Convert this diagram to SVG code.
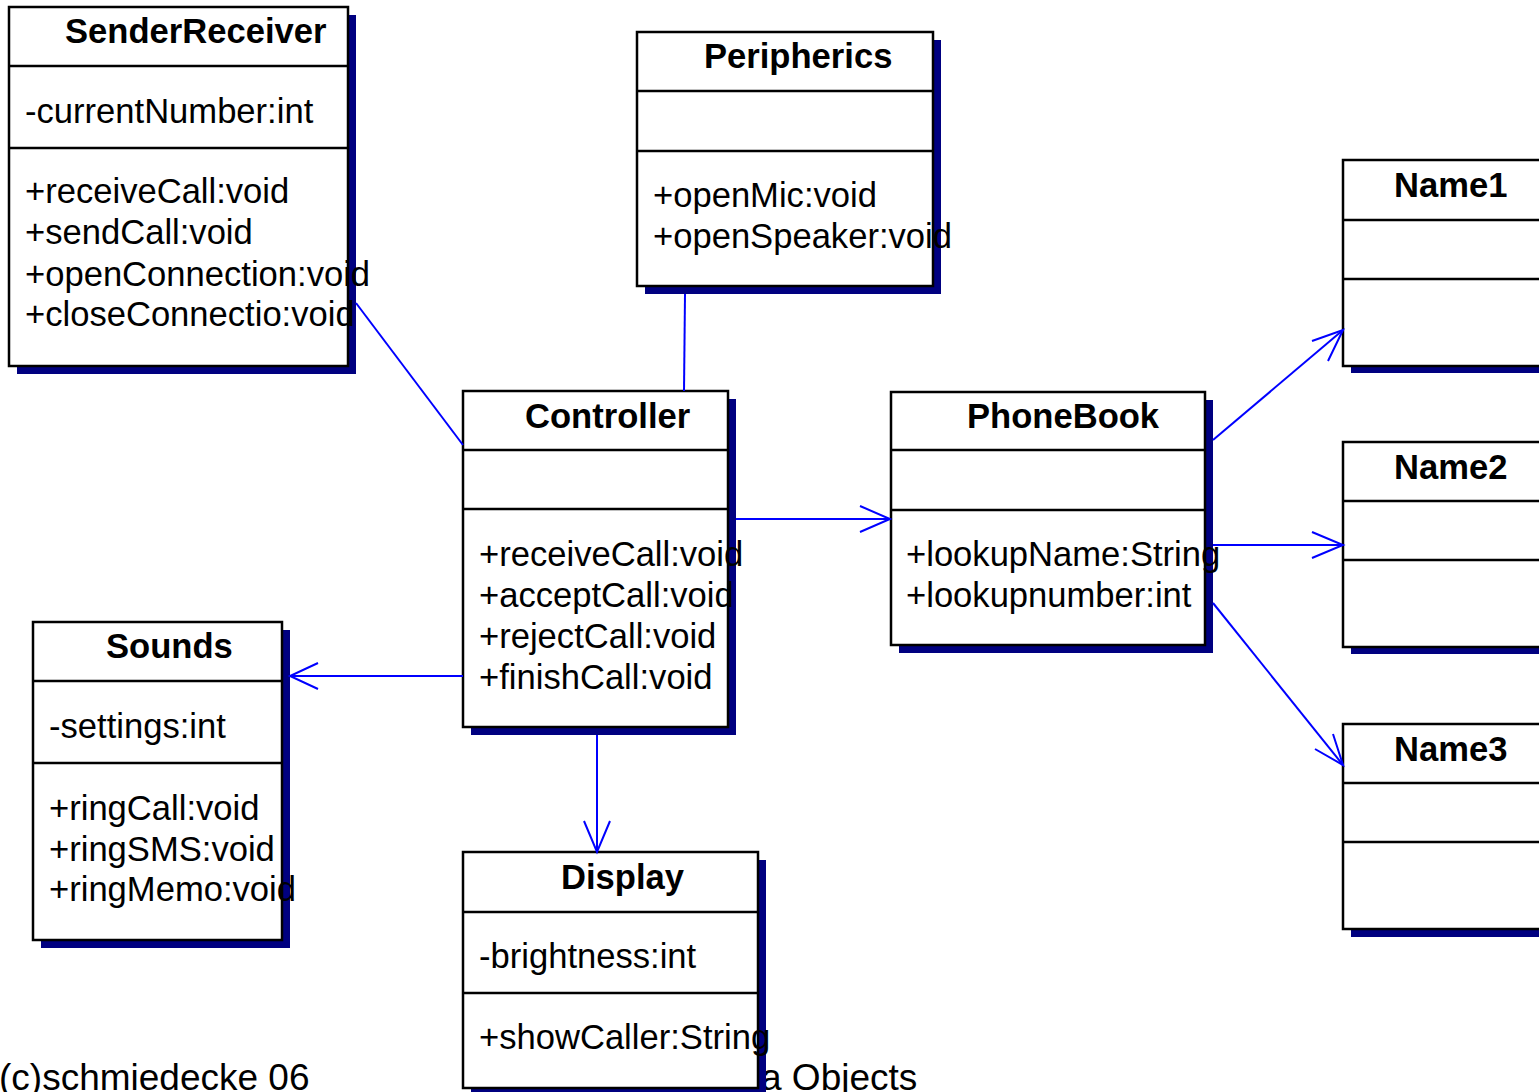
<svg xmlns="http://www.w3.org/2000/svg" width="1539" height="1092" viewBox="0 0 1539 1092">
  <style>
    .shadow { fill: #000080; }
    .box { fill: #ffffff; stroke: #000000; stroke-width: 2.5; }
    .sep { stroke: #000000; stroke-width: 2.5; }
    text { font-family: "Liberation Sans", Arial, Helvetica, sans-serif; font-size: 34.6px; fill: #000000; }
    .title { font-weight: bold; }
    .footer { font-size: 37px; }
    .conn { stroke: #0000ff; stroke-width: 2; fill: none; }
  </style>

  <!-- footer labels -->
  <g id="footer">
    <text class="footer" x="-1" y="1090">(c)schmiedecke 06</text>
    <text class="footer" x="761" y="1090">a Objects</text>
  </g>

  <g id="SenderReceiver">
    <rect class="shadow" x="17" y="15" width="339" height="359"/>
    <rect class="box" x="9" y="7" width="339" height="359"/>
    <line class="sep" x1="9" y1="66" x2="348" y2="66"/>
    <line class="sep" x1="9" y1="148" x2="348" y2="148"/>
    <text class="title" x="65" y="43">SenderReceiver</text>
    <text x="25" y="123">-currentNumber:int</text>
    <text x="25" y="203">+receiveCall:void</text>
    <text x="25" y="244">+sendCall:void</text>
    <text x="25" y="286">+openConnection:void</text>
    <text x="25" y="326">+closeConnectio:void</text>
  </g>

  <g id="Peripherics">
    <rect class="shadow" x="645" y="40" width="296" height="254"/>
    <rect class="box" x="637" y="32" width="296" height="254"/>
    <line class="sep" x1="637" y1="91" x2="933" y2="91"/>
    <line class="sep" x1="637" y1="151" x2="933" y2="151"/>
    <text class="title" x="704" y="68">Peripherics</text>
    <text x="653" y="207">+openMic:void</text>
    <text x="653" y="248">+openSpeaker:void</text>
  </g>

  <g id="Controller">
    <rect class="shadow" x="471" y="399" width="265" height="336"/>
    <rect class="box" x="463" y="391" width="265" height="336"/>
    <line class="sep" x1="463" y1="450" x2="728" y2="450"/>
    <line class="sep" x1="463" y1="509" x2="728" y2="509"/>
    <text class="title" x="525" y="428">Controller</text>
    <text x="479" y="566">+receiveCall:void</text>
    <text x="479" y="607">+acceptCall:void</text>
    <text x="479" y="648">+rejectCall:void</text>
    <text x="479" y="689">+finishCall:void</text>
  </g>

  <g id="PhoneBook">
    <rect class="shadow" x="899" y="400" width="314" height="253"/>
    <rect class="box" x="891" y="392" width="314" height="253"/>
    <line class="sep" x1="891" y1="450" x2="1205" y2="450"/>
    <line class="sep" x1="891" y1="510" x2="1205" y2="510"/>
    <text class="title" x="967" y="428">PhoneBook</text>
    <text x="906" y="566">+lookupName:String</text>
    <text x="906" y="607">+lookupnumber:int</text>
  </g>

  <g id="Sounds">
    <rect class="shadow" x="41" y="630" width="249" height="318"/>
    <rect class="box" x="33" y="622" width="249" height="318"/>
    <line class="sep" x1="33" y1="681" x2="282" y2="681"/>
    <line class="sep" x1="33" y1="763" x2="282" y2="763"/>
    <text class="title" x="106" y="658">Sounds</text>
    <text x="49" y="738">-settings:int</text>
    <text x="49" y="820">+ringCall:void</text>
    <text x="49" y="861">+ringSMS:void</text>
    <text x="49" y="901">+ringMemo:void</text>
  </g>

  <g id="Display">
    <rect class="shadow" x="471" y="860" width="295" height="236"/>
    <rect class="box" x="463" y="852" width="295" height="236"/>
    <line class="sep" x1="463" y1="912" x2="758" y2="912"/>
    <line class="sep" x1="463" y1="993" x2="758" y2="993"/>
    <text class="title" x="561" y="889">Display</text>
    <text x="479" y="968">-brightness:int</text>
    <text x="479" y="1049">+showCaller:String</text>
  </g>

  <g id="Name1">
    <rect class="shadow" x="1351" y="168" width="220" height="205"/>
    <rect class="box" x="1343" y="160" width="220" height="206"/>
    <line class="sep" x1="1343" y1="220" x2="1563" y2="220"/>
    <line class="sep" x1="1343" y1="279" x2="1563" y2="279"/>
    <text class="title" x="1394" y="197">Name1</text>
  </g>

  <g id="Name2">
    <rect class="shadow" x="1351" y="450" width="220" height="204"/>
    <rect class="box" x="1343" y="442" width="220" height="205"/>
    <line class="sep" x1="1343" y1="501" x2="1563" y2="501"/>
    <line class="sep" x1="1343" y1="560" x2="1563" y2="560"/>
    <text class="title" x="1394" y="479">Name2</text>
  </g>

  <g id="Name3">
    <rect class="shadow" x="1351" y="732" width="220" height="205"/>
    <rect class="box" x="1343" y="724" width="220" height="205"/>
    <line class="sep" x1="1343" y1="783" x2="1563" y2="783"/>
    <line class="sep" x1="1343" y1="842" x2="1563" y2="842"/>
    <text class="title" x="1394" y="761">Name3</text>
  </g>

  <g id="connectors">
    <!-- plain associations -->
    <line class="conn" x1="356" y1="303" x2="463" y2="445"/>
    <line class="conn" x1="685" y1="294" x2="684" y2="391"/>
    <!-- Controller -> PhoneBook -->
    <line class="conn" x1="736" y1="519" x2="890" y2="519"/>
    <polyline class="conn" points="860,506 890,519 860,532"/>
    <!-- Controller -> Sounds -->
    <line class="conn" x1="463" y1="676" x2="290" y2="676"/>
    <polyline class="conn" points="318,663 290,676 318,689"/>
    <!-- Controller -> Display -->
    <line class="conn" x1="597" y1="735" x2="597" y2="852"/>
    <polyline class="conn" points="584,821 597,852 610,821"/>
    <!-- PhoneBook -> Name1 -->
    <line class="conn" x1="1213" y1="440" x2="1343" y2="330"/>
    <polyline class="conn" points="1312,341 1343,330 1328,361"/>
    <!-- PhoneBook -> Name2 -->
    <line class="conn" x1="1213" y1="545" x2="1343" y2="545"/>
    <polyline class="conn" points="1312,532 1343,545 1312,558"/>
    <!-- PhoneBook -> Name3 -->
    <line class="conn" x1="1213" y1="603" x2="1343" y2="765"/>
    <polyline class="conn" points="1315,749 1343,765 1333,734"/>
  </g>
</svg>
